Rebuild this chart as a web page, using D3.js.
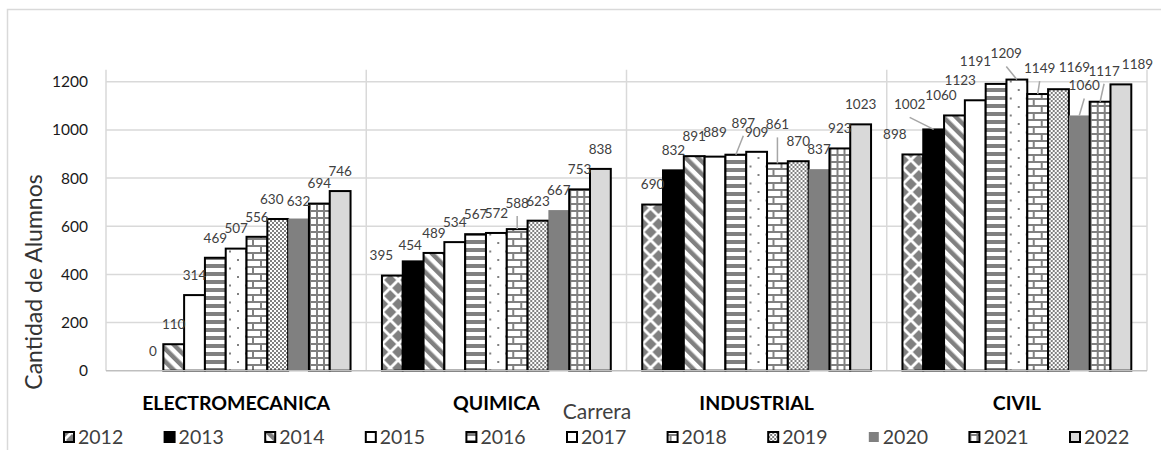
<!DOCTYPE html>
<html>
<head>
<meta charset="utf-8">
<script src="https://cdn.jsdelivr.net/npm/d3@7/dist/d3.min.js"></script>
<style>
  html, body { margin: 0; padding: 0; background: #fff; }
  svg { display: block; font-family: Lato, "Noto Sans", sans-serif; }
</style>
</head>
<body>
<svg id="chart" width="1161" height="450"></svg>
<script>
// Enrolled students per degree programme and year
const categories = ["ELECTROMECANICA", "QUIMICA", "INDUSTRIAL", "CIVIL"];
const years = ["2012", "2013", "2014", "2015", "2016", "2017", "2018", "2019", "2020", "2021", "2022"];

const electromecanica = [null, 0, 110, 314, 469, 507, 556, 630, 632, 694, 746];
const quimica         = [395, 454, 489, 534, 567, 572, 588, 623, 667, 753, 838];
const industrial      = [690, 832, 891, 889, 897, 909, 861, 870, 837, 923, 1023];
const civil           = [898, 1002, 1060, 1123, 1191, 1209, 1149, 1169, 1060, 1117, 1189];

const yTicks = [0, 200, 400, 600, 800, 1000, 1200];

const valuesByCategory = {
  ELECTROMECANICA: electromecanica,
  QUIMICA: quimica,
  INDUSTRIAL: industrial,
  CIVIL: civil
};

// Hand-placed label nudges (dx, dy in px, leader = draw a connector line)
const labelNudge = {
  ELECTROMECANICA: { 7: [-6, 0], 8: [0, 3] },
  QUIMICA: { 0: [-11, 0], 1: [-3, 4], 6: [0, -6, true] },
  INDUSTRIAL: { 3: [0, -4], 4: [7.5, -12, true], 6: [0, -19, true] },
  CIVIL: {
    0: [-18, 0], 1: [-24, -5, true], 2: [-13.5, 0], 3: [-15, 0], 4: [-20.6, -3],
    5: [-10.6, -6, true], 6: [2, -6, true], 7: [16, -2], 8: [5, -10, true],
    9: [4, -11, true], 10: [16.6, 0]
  }
};

const svg = d3.select("#chart");
const GREY = "#808080";

// ---- fill patterns, one per year ----
const defs = svg.append("defs");
function pattern(id, w, h, attrs) {
  const p = defs.append("pattern").attr("id", id)
    .attr("patternUnits", "userSpaceOnUse").attr("width", w).attr("height", h);
  if (attrs) Object.entries(attrs).forEach(([k, v]) => p.attr(k, v));
  p.append("rect").attr("width", w).attr("height", h).attr("fill", "#fff");
  return p;
}
// 2012: diamond checker
{
  const p = pattern("p2012", 16, 16);
  p.append("path").attr("fill", GREY)
    .attr("d", "M8,2 L14,8 L8,14 L2,8 Z M0,-6 L6,0 L0,6 L-6,0 Z M16,-6 L22,0 L16,6 L10,0 Z M0,10 L6,16 L0,22 L-6,16 Z M16,10 L22,16 L16,22 L10,16 Z");
}
// 2014: wide downward diagonal
{
  const p = pattern("p2014", 9, 9, { patternTransform: "rotate(-45)" });
  p.append("rect").attr("width", 4.5).attr("height", 9).attr("fill", GREY);
}
// 2016: horizontal stripes
{
  const p = pattern("p2016", 8, 8);
  p.append("rect").attr("y", 0).attr("width", 8).attr("height", 4).attr("fill", GREY);
}
// 2017: sparse dots
{
  const p = pattern("p2017", 16, 17);
  p.append("rect").attr("x", 3).attr("y", 4).attr("width", 2).attr("height", 2).attr("fill", GREY);
  p.append("rect").attr("x", 11).attr("y", 12.5).attr("width", 2).attr("height", 2).attr("fill", GREY);
}
// 2018: brick
{
  const p = pattern("p2018", 16, 14);
  p.append("rect").attr("y", 0).attr("width", 16).attr("height", 2).attr("fill", GREY);
  p.append("rect").attr("y", 7).attr("width", 16).attr("height", 2).attr("fill", GREY);
  p.append("rect").attr("x", 2).attr("y", 0).attr("width", 2).attr("height", 7).attr("fill", GREY);
  p.append("rect").attr("x", 10).attr("y", 7).attr("width", 2).attr("height", 7).attr("fill", GREY);
}
// 2019: fine checkerboard
{
  const p = pattern("p2019", 4, 4);
  p.append("rect").attr("x", 0).attr("y", 0).attr("width", 2).attr("height", 2).attr("fill", GREY);
  p.append("rect").attr("x", 2).attr("y", 2).attr("width", 2).attr("height", 2).attr("fill", GREY);
}
// 2021: grid
{
  const p = pattern("p2021", 7, 7);
  p.append("rect").attr("x", 0).attr("y", 0).attr("width", 7).attr("height", 2).attr("fill", GREY);
  p.append("rect").attr("x", 0).attr("y", 0).attr("width", 2).attr("height", 7).attr("fill", GREY);
}

const yearStyle = {
  "2012": { fill: "url(#p2012)", stroke: "#000" },
  "2013": { fill: "#000", stroke: "#000" },
  "2014": { fill: "url(#p2014)", stroke: "#000" },
  "2015": { fill: "#fff", stroke: "#000" },
  "2016": { fill: "url(#p2016)", stroke: "#000" },
  "2017": { fill: "url(#p2017)", stroke: "#000" },
  "2018": { fill: "url(#p2018)", stroke: "#000" },
  "2019": { fill: "url(#p2019)", stroke: "#000" },
  "2020": { fill: "#808080", stroke: "none" },
  "2021": { fill: "url(#p2021)", stroke: "#000" },
  "2022": { fill: "#d9d9d9", stroke: "#000" }
};

// ---- chart frame ----
svg.append("rect").attr("x", 7.5).attr("y", 9.5).attr("width", 1170).attr("height", 470)
  .attr("fill", "#fff").attr("stroke", "#d9d9d9").attr("stroke-width", 1.5);

// ---- scales ----
const plotLeft = 106, plotRight = 1147, plotBottom = 370.7, plotTop = 69.7;
const y = d3.scaleLinear().domain([0, 1250]).range([plotBottom, plotTop]);
const x0 = d3.scaleBand().domain(categories).range([plotLeft, plotRight]).padding(0);
const x1 = d3.scaleBand().domain(years).range([0, x0.bandwidth()]).paddingInner(0).paddingOuter(0.755);

// ---- gridlines ----
const grid = svg.append("g");
grid.selectAll("line.h").data(yTicks.filter(t => t > 0)).join("line")
  .attr("x1", plotLeft).attr("x2", plotRight)
  .attr("y1", d => y(d)).attr("y2", d => y(d))
  .attr("stroke", "#d9d9d9").attr("stroke-width", 1.5);
const bounds = categories.map(c => x0(c)).concat([plotRight]);
grid.selectAll("line.v").data(bounds).join("line")
  .attr("x1", d => d).attr("x2", d => d)
  .attr("y1", y(1250)).attr("y2", plotBottom)
  .attr("stroke", "#d9d9d9").attr("stroke-width", 1.5);

// ---- y axis ----
const yAxis = svg.append("g").attr("transform", `translate(${plotLeft},0)`)
  .call(d3.axisLeft(y).tickValues(yTicks).tickFormat(d3.format("d")).tickSize(0).tickPadding(18));
yAxis.select(".domain").remove();
yAxis.selectAll("text").attr("font-size", 15.5).attr("fill", "#1a1a1a")
  .attr("font-family", "Lato, sans-serif");

// ---- bars ----
const groups = svg.append("g").selectAll("g").data(categories).join("g")
  .attr("transform", c => `translate(${x0(c)},0)`);

groups.selectAll("rect").data(c => years.map((yr, i) => ({ c, yr, i, v: valuesByCategory[c][i] }))
    .filter(d => d.v !== null && d.v > 0))
  .join("rect")
  .attr("x", d => x1(d.yr))
  .attr("width", x1.bandwidth())
  .attr("y", d => y(d.v))
  .attr("height", d => plotBottom - y(d.v))
  .attr("fill", d => yearStyle[d.yr].fill)
  .attr("stroke", d => yearStyle[d.yr].stroke)
  .attr("stroke-width", 2);

// ---- x axis line ----
svg.append("line").attr("x1", plotLeft).attr("x2", plotRight)
  .attr("y1", plotBottom).attr("y2", plotBottom)
  .attr("stroke", "#bfbfbf").attr("stroke-width", 1.5);

// ---- data labels ----
const labelData = [];
categories.forEach(c => {
  valuesByCategory[c].forEach((v, i) => {
    if (v === null) return;
    const yr = years[i];
    const cx = x0(c) + x1(yr) + x1.bandwidth() / 2;
    const top = y(v);
    const n = (labelNudge[c] || {})[i] || [0, 0, false];
    labelData.push({ v, cx, top, lx: cx + n[0], ly: top - 20 + n[1], leader: !!n[2] });
  });
});
svg.append("g").selectAll("line").data(labelData.filter(d => d.leader)).join("line")
  .attr("x1", d => d.lx).attr("y1", d => d.ly + 13)
  .attr("x2", d => d.cx).attr("y2", d => d.top)
  .attr("stroke", "#a6a6a6").attr("stroke-width", 1.5);
svg.append("g").selectAll("text").data(labelData).join("text")
  .attr("x", d => d.lx).attr("y", d => d.ly).attr("dy", "0.36em")
  .attr("text-anchor", "middle").attr("font-size", 13.5).attr("fill", "#404040")
  .text(d => d.v);

// ---- category labels ----
svg.append("g").selectAll("text").data(categories).join("text")
  .attr("x", c => x0(c) + x0.bandwidth() / 2).attr("y", 410)
  .attr("text-anchor", "middle").attr("font-size", 19.5).attr("font-weight", "bold")
  .attr("fill", "#000").text(c => c);

// ---- axis titles ----
svg.append("text").attr("x", 597).attr("y", 419).attr("text-anchor", "middle")
  .attr("font-size", 21).attr("fill", "#404040").text("Carrera");
svg.append("text").attr("transform", "translate(42,282) rotate(-90)")
  .attr("text-anchor", "middle").attr("font-size", 23).attr("fill", "#333")
  .text("Cantidad de Alumnos");

// ---- legend ----
const legend = svg.append("g").selectAll("g").data(years).join("g")
  .attr("transform", (d, i) => `translate(${64 + i * 100.6},0)`);
legend.append("rect").attr("x", 0).attr("y", 432).attr("width", 10).attr("height", 10)
  .attr("fill", d => yearStyle[d].fill).attr("stroke", d => yearStyle[d].stroke)
  .attr("stroke-width", 2);
legend.append("text").attr("x", 14).attr("y", 443.5).attr("font-size", 19.5)
  .attr("fill", "#404040").text(d => d);
</script>
</body>
</html>
